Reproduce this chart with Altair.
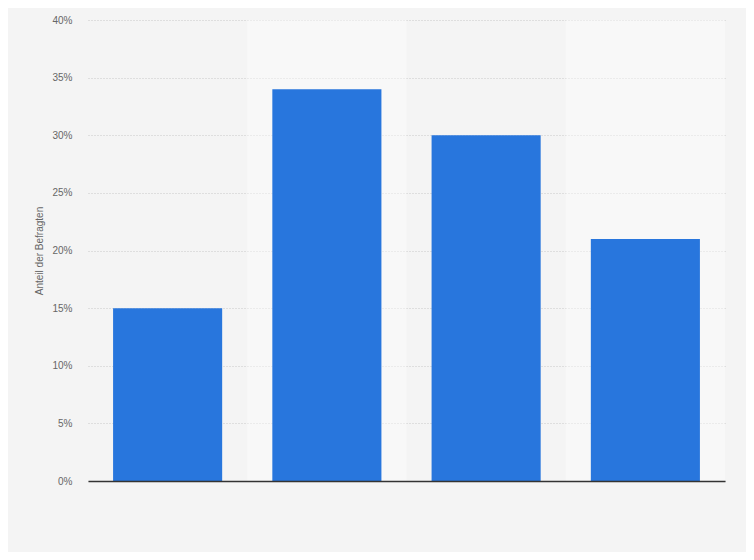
import altair as alt
import pandas as pd

categories = ["Kategorie 1", "Kategorie 2", "Kategorie 3", "Kategorie 4"]
values = [0.15, 0.34, 0.30, 0.21]
band_flags = [0, 1, 0, 1]
y_ticks = [0, 0.05, 0.1, 0.15, 0.2, 0.25, 0.3, 0.35, 0.4]

df = pd.DataFrame({"cat": categories, "val": values, "band": band_flags})

bands = alt.Chart(df).transform_filter("datum.band == 1").mark_rect(color="#ffffff", opacity=0.4).encode(
    x=alt.X("cat:N", sort=categories,
            scale=alt.Scale(domain=categories, paddingInner=0, paddingOuter=0), axis=None),
    y=alt.value(0),
    y2=alt.value(461),
)

bars = alt.Chart(df).mark_bar(color="#2876dd").encode(
    x=alt.X("cat:N", sort=categories,
            scale=alt.Scale(domain=categories, paddingInner=0.315, paddingOuter=0.1575),
            axis=alt.Axis(labels=False, ticks=False, title=None, domain=True, zindex=1,
                          domainColor="#333333", domainWidth=1.5, grid=False)),
    y=alt.Y("val:Q", scale=alt.Scale(domain=[0, 0.4], nice=False),
            axis=alt.Axis(format=".0%", values=y_ticks,
                          ticks=False, domain=False, labelPadding=16,
                          labelColor="#666666", labelFont="Liberation Sans", labelFontSize=10,
                          grid=True, gridColor="#c8c8c8", gridDash=[1, 2], gridWidth=1,
                          title="Anteil der Befragten", titleColor="#666666",
                          titleFont="Liberation Sans", titleFontSize=10, titleFontWeight="normal",
                          titleX=-49, titleY=230.5, titleAngle=-90, titleAlign="center",
                          titleBaseline="middle")),
)

chart = alt.layer(bands, bars).resolve_scale(x="independent").properties(
    width=637, height=461,
    autosize=alt.AutoSizeParams(type="none"),
    padding={"left": 80, "top": 12, "right": 21, "bottom": 71},
    background="#f4f4f4",
).configure_view(stroke=None, fill="#f4f4f4")

chart.save("out.html", embed_options={"renderer": "svg", "actions": False})
